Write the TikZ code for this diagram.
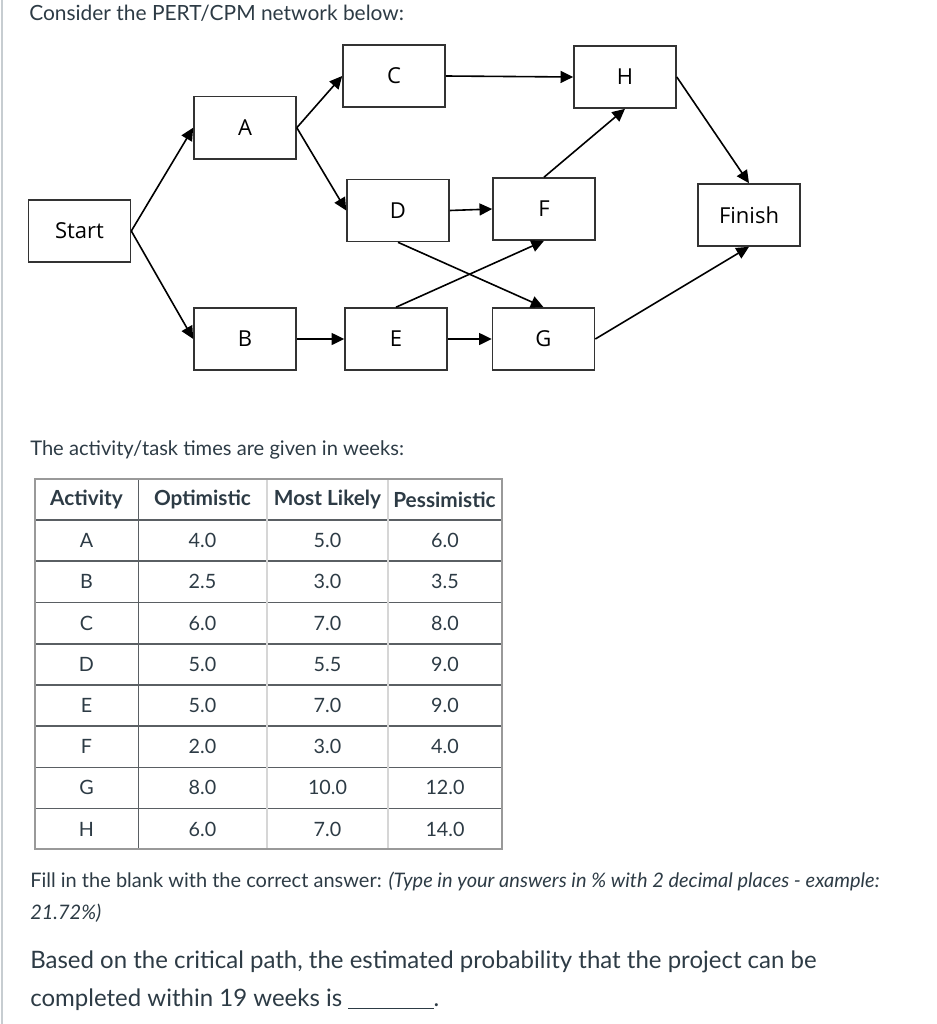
\documentclass[tikz,border=0pt]{standalone}
\usepackage{fontspec}
\setmainfont{Lato}
\newfontfamily\boxfont{Open Sans}
\usetikzlibrary{arrows.meta,positioning}
\definecolor{ink}{HTML}{2D3B45}
\definecolor{sidebar}{HTML}{C7CDD1}
\definecolor{gridline}{HTML}{5A5F63}
\definecolor{softline}{HTML}{D6D6D6}

\begin{document}
\begin{tikzpicture}[x=0.75pt, y=-0.75pt,
  >={Triangle[length=9.5pt, width=9pt]},
  act/.style={draw=black!80, line width=1.2pt, minimum width=76.5pt, minimum height=46.5pt, inner sep=0pt, font=\boxfont\fontsize{16.5}{19}\selectfont},
  flow/.style={->, line width=1.2pt, black},
  txt/.style={anchor=base west, inner sep=0pt, text=ink, font=\fontsize{15.1}{18}\selectfont},
  cell/.style={inner sep=0pt, text=ink, font=\fontsize{14.8}{17}\selectfont},
  head/.style={inner sep=0pt, text=ink, font=\bfseries\fontsize{15.6}{18}\selectfont},
]
  \useasboundingbox (0,0) rectangle (937,1024);
  \draw[sidebar, line width=2pt] (2,0) -- (2,1024);

  \node[txt, font=\fontsize{15.7}{18}\selectfont] (intro) at (29,21) {Consider the PERT/CPM network below:};

  \node[act] (start)  at (79.5,231)  {Start};
  \node[act] (A)      at (245,127.7) {A};
  \node[act] (B)      at (245,339)   {B};
  \node[act] (C)      at (394,76)    {C};
  \node[act] (D)      at (398,210.5) {D};
  \node[act] (E)      at (396,339)   {E};
  \node[act] (F)      at (544,209)   {F};
  \node[act] (G)      at (543.5,339) {G};
  \node[act] (H)      at (625,77)    {H};
  \node[act] (finish) at (749,215)   {Finish};

  \draw[flow] (start.east) -- (A.west);
  \draw[flow] (start.east) -- (B.west);
  \draw[flow] (A.east) -- (C.west);
  \draw[flow] (A.east) -- (D.west);
  \draw[flow] (B.east) -- (E.west);
  \draw[flow] (C.east) -- (H.west);
  \draw[flow] (D.east) -- (F.west);
  \draw[flow] (E.east) -- (G.west);
  \draw[flow] (D.south) -- (G.north);
  \draw[flow] (E.north) -- (F.south);
  \draw[flow] (F.north) -- (H.south);
  \draw[flow] (H.east) -- (finish.north);
  \draw[flow] (G.east) -- (finish.south);

  \node[txt] (weeks) at (30,455) {The activity/task times are given in weeks:};

  \foreach \y in {520,561,602.5,644,685,726,767.3,808.3}
    \draw[gridline, line width=1.1pt] (35,\y) -- (501.7,\y);
  \draw[gridline, line width=1.1pt] (138.3,479.3) -- (138.3,849.3);
  \foreach \x in {267.3,387.7}
    \draw[softline, line width=1.5pt] (\x,479.3) -- (\x,849.3);
  \draw[gray!80, line width=1.3pt] (35,479.3) rectangle (501.7,849.3);

  \node[head] (h1) at (86.5,499.5)  {Activity};
  \node[head] (h2) at (202.5,499.5) {Optimistic};
  \node[head] (h3) at (327.5,499.5) {Most Likely};
  \node[head] (h4) at (444.5,499.5) {Pessimistic};
  \foreach \a/\o/\m/\p [count=\i] in {A/4.0/5.0/6.0, B/2.5/3.0/3.5, C/6.0/7.0/8.0, D/5.0/5.5/9.0, E/5.0/7.0/9.0, F/2.0/3.0/4.0, G/8.0/10.0/12.0, H/6.0/7.0/14.0} {
    \node[cell] (act-\i) at (86.5,499.5+41.2*\i)  {\a};
    \node[cell] (opt-\i) at (202.5,499.5+41.2*\i) {\o};
    \node[cell] (ml-\i)  at (327.5,499.5+41.2*\i) {\m};
    \node[cell] (pes-\i) at (445,499.5+41.2*\i)   {\p};
  }

  \node[txt, font=\fontsize{15}{18}\selectfont] (fill) at (30,887) {Fill in the blank with the correct answer: \textit{(Type in your answers in \% with 2 decimal places - example:}};
  \node[txt, font=\fontsize{15}{18}\selectfont] (fill2) at (30,919) {\textit{21.72\%)}};
  \node[txt, font=\fontsize{18}{21}\selectfont] (based) at (30,968) {Based on the critical path, the estimated probability that the project can be};
  \node[txt, font=\fontsize{18}{21}\selectfont] (based2) at (30,1006.7) {completed within 19 weeks is \rule[-2pt]{64pt}{0.9pt}.};
\end{tikzpicture}
\end{document}
